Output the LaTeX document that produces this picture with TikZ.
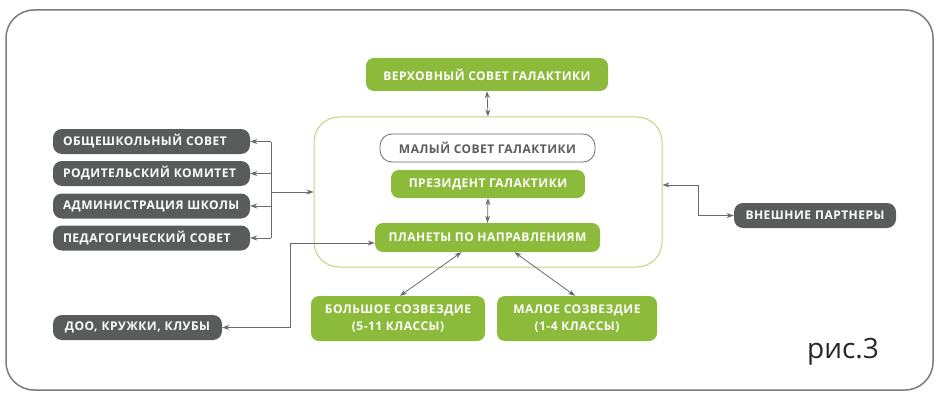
\documentclass[tikz,border=0pt]{standalone}
\usepackage{fontspec}
\setmainfont{Open Sans}
\newfontfamily\boxfont[LetterSpace=4]{Open Sans}
\usetikzlibrary{arrows.meta,calc}
\definecolor{grn}{HTML}{8CBB3C}
\definecolor{dgray}{HTML}{5A5B5B}
\definecolor{lgrn}{HTML}{B9D77E}
\definecolor{lne}{HTML}{6A6A6A}
\definecolor{frm}{HTML}{7A7A7A}
\begin{document}
\begin{tikzpicture}[x=1pt,y=-1pt,
  bfnt/.style={font=\boxfont\bfseries\fontsize{12}{16.5}\selectfont},
  gbox/.style={bfnt,fill=grn,rounded corners=8pt,text=white,align=center,inner sep=0pt},
  dbox/.style={bfnt,fill=dgray,rounded corners=9pt,text=white,inner ysep=0pt,inner xsep=10pt,minimum height=25pt},
  wbox/.style={bfnt,fill=white,draw=lne,line width=0.8pt,rounded corners=12pt,text=dgray,align=center,inner sep=0pt},
  cont/.style={draw=lgrn,line width=1pt,rounded corners=25pt,inner sep=0pt},
  conn/.style={draw=lne,line width=0.8pt},
  tip/.style={-{Stealth[length=7pt,width=5pt]}},
  tips/.style={{Stealth[length=7pt,width=5pt]}-{Stealth[length=7pt,width=5pt]}}
]
\useasboundingbox (0,0) rectangle (936,393);
\draw[frm,line width=1.5pt,rounded corners=28pt] (6,10) rectangle (933,390);
\node[cont,minimum width=348pt,minimum height=150pt] (cont) at (488,192) {};
\node[gbox,minimum width=242pt,minimum height=33pt] (verh) at (487,74.5) {ВЕРХОВНЫЙ СОВЕТ ГАЛАКТИКИ};
\node[wbox,minimum width=215pt,minimum height=28pt] (malyi) at (487.5,148) {МАЛЫЙ СОВЕТ ГАЛАКТИКИ};
\node[gbox,minimum width=194pt,minimum height=28pt] (prez) at (488,184) {ПРЕЗИДЕНТ ГАЛАКТИКИ};
\node[gbox,minimum width=225pt,minimum height=29pt] (plan) at (487.5,237.5) {ПЛАНЕТЫ ПО НАПРАВЛЕНИЯМ};
\node[gbox,minimum width=174pt,minimum height=45pt] (bolsh) at (398,318.5) {БОЛЬШОЕ СОЗВЕЗДИЕ\\(5-11 КЛАССЫ)};
\node[gbox,minimum width=160pt,minimum height=45pt] (maloe) at (577,318.5) {МАЛОЕ СОЗВЕЗДИЕ\\(1-4 КЛАССЫ)};
\node[dbox,text width=177pt,align=left] (obsh) at (151.5,141.5) {ОБЩЕШКОЛЬНЫЙ СОВЕТ};
\node[dbox,text width=177pt,align=left] (rod) at (151.5,173.5) {РОДИТЕЛЬСКИЙ КОМИТЕТ};
\node[dbox,text width=177pt,align=left] (adm) at (151.5,206) {АДМИНИСТРАЦИЯ ШКОЛЫ};
\node[dbox,text width=177pt,align=left] (ped) at (151.5,238) {ПЕДАГОГИЧЕСКИЙ СОВЕТ};
\node[dbox,text width=149pt,align=center] (doo) at (137.5,327.5) {ДОО, КРУЖКИ, КЛУБЫ};
\node[dbox,text width=142pt,align=center] (vnesh) at (815,215.5) {ВНЕШНИЕ ПАРТНЕРЫ};
\node[font=\fontsize{28}{30}\selectfont,text=black!85,inner sep=0pt] (ris) at (843,352) {рис.3};
% connectors
\draw[conn,tips] (verh.south) -- (cont.north);
\draw[conn,tips] (prez.south) -- (plan.north);
\coordinate (bt) at (271,141.5);
\coordinate (bb) at (271,238);
\coordinate (bm) at (271,192);
\draw[conn] (bt) -- (bb);
\draw[conn,tip] (bt) -- (obsh.east);
\draw[conn,tip] (rod.east -| bt) -- (rod.east);
\draw[conn,tip] (adm.east -| bt) -- (adm.east);
\draw[conn,tip] (bb) -- (ped.east);
\draw[conn,tip] (bm) -- (bm -| cont.west);
\coordinate (dc) at (290,243);
\draw[conn,tips] (doo.east) -| (dc) -- (dc -| plan.west);
\coordinate (vc) at (698,185);
\draw[conn,tips] (vc -| cont.east) -- (vc) |- (vnesh.west);
\draw[conn,tips] ([xshift=-26pt]plan.south) -- ([xshift=2pt]bolsh.north);
\draw[conn,tips] ([xshift=27pt]plan.south) -- ([xshift=-2pt]maloe.north);
\end{tikzpicture}
\end{document}
